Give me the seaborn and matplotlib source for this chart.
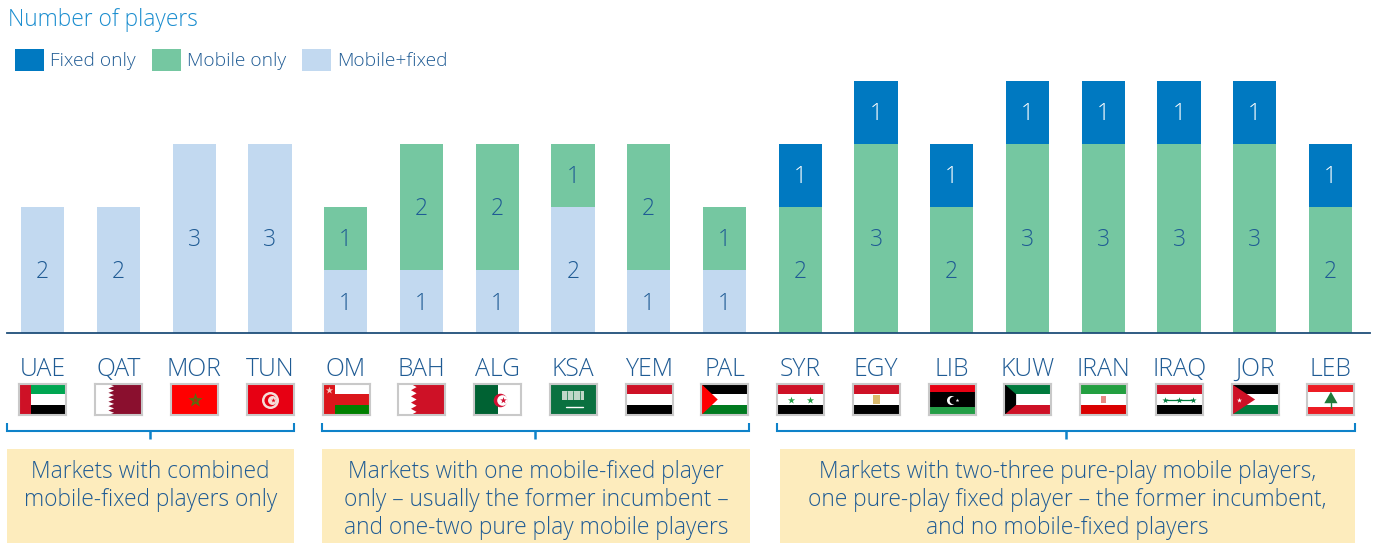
import matplotlib
matplotlib.use("Agg")
import matplotlib.pyplot as plt
import seaborn as sns
from matplotlib.patches import Rectangle, Polygon
from matplotlib.path import Path
from matplotlib.patches import PathPatch

markets = ["UAE","QAT","MOR","TUN","OM","BAH","ALG","KSA","YEM","PAL",
           "SYR","EGY","LIB","KUW","IRAN","IRAQ","JOR","LEB"]
mobile_fixed = [2,2,3,3,1,1,1,2,1,1,0,0,0,0,0,0,0,0]
mobile_only  = [0,0,0,0,1,2,2,1,2,1,2,3,2,3,3,3,3,2]
fixed_only   = [0,0,0,0,0,0,0,0,0,0,1,1,1,1,1,1,1,1]
series_names = ["Fixed only","Mobile only","Mobile+fixed"]
title_text = "Number of players"
group_lines = [
    ["Markets with combined","mobile-fixed players only"],
    ["Markets with one mobile-fixed player","only – usually the former incumbent –","and one-two pure play mobile players"],
    ["Markets with two-three pure-play mobile players,","one pure-play fixed player – the former incumbent,","and no mobile-fixed players"],
]

C_FIXED, C_MOBILE, C_BOTH = "#0079C1", "#75C7A1", "#C2D9F0"
C_TEXT, C_TITLE, C_BOX, C_BRACKET = "#1F5B94", "#1A8DCF", "#FDECBD", "#0E82C9"
W, H = 1375, 543

sns.set_theme(style="white")
plt.rcParams["font.family"] = ["Open Sans", "DejaVu Sans"]
plt.rcParams["font.weight"] = 300

fig = plt.figure(figsize=(W/100, H/100), dpi=100)
fig.patch.set_facecolor("white")
ax = fig.add_axes([6.7/W, (H-333)/H, (1369.7-6.7)/W, (333-80.5)/H])

bottom1 = mobile_fixed
bottom2 = [a+b for a, b in zip(mobile_fixed, mobile_only)]
kw = dict(x=markets, width=0.57, saturation=1, ax=ax, legend=False, order=markets, linewidth=0)
sns.barplot(y=mobile_fixed, color=C_BOTH, label=series_names[2], **kw)
sns.barplot(y=mobile_only, bottom=bottom1, color=C_MOBILE, label=series_names[1], **kw)
sns.barplot(y=fixed_only, bottom=bottom2, color=C_FIXED, label=series_names[0], **kw)

ax.set_xlim(-0.475, 17.516)
ax.set_ylim(0, 4.0)
for s in ["top","left","right"]:
    ax.spines[s].set_visible(False)
ax.spines["bottom"].set_color("#1F4E79")
ax.spines["bottom"].set_linewidth(1.3)
ax.set_yticks([])
ax.set_ylabel("")
ax.tick_params(axis="x", length=0, pad=31, labelsize=17.8, labelcolor=C_TEXT)
for lab in ax.get_xticklabels():
    lab.set_fontweight(300)
    lab.set_verticalalignment("baseline")

for cont, vals, col in zip(ax.containers, [mobile_fixed, mobile_only, fixed_only],
                           [C_TEXT, C_TEXT, "white"]):
    anns = ax.bar_label(cont, labels=[str(v) if v else "" for v in vals], label_type="center",
                        color=col, fontsize=16.5, fontweight=300)
    for t in anns:
        t.xyann = (0, -1.5)

hs = list(ax.containers)[::-1]
ax.legend(hs, series_names, loc="upper left", bbox_to_anchor=(15/W, (H-49)/H),
          bbox_transform=fig.transFigure, frameon=False, ncol=3,
          handlelength=1.5, handleheight=1.35, handletextpad=0.33, columnspacing=0.85,
          borderpad=0, borderaxespad=0, labelcolor=C_TEXT,
          prop={"size": 13.8, "weight": 300})

# overlay in pixel units
ov = fig.add_axes([0, 0, 1, 1], zorder=0.5)
ov.set_xlim(0, W); ov.set_ylim(H, 0); ov.axis("off"); ov.patch.set_alpha(0)
ov.text(8, 26, title_text, color=C_TITLE, fontsize=16.4, fontweight=300, va="baseline")

boxes = [(7, 294), (322, 750), (780, 1355)]
brackets = [(7, 294, 150), (322, 749, 535), (777, 1355, 1066)]
for (x0, x1), lines in zip(boxes, group_lines):
    ov.add_patch(Rectangle((x0, 449), x1-x0, 94, fc=C_BOX, ec="none"))
    for i, t in enumerate(lines):
        ov.text((x0+x1)/2, 478+28*i, t, ha="center", va="baseline", color=C_TEXT,
                fontsize=16.4, fontweight=300)
for x0, x1, xm in brackets:
    v = [(x0, 423), (x0, 431), (x0+2, 431), (x1-2, 431), (x1, 431), (x1, 423)]
    c = [Path.MOVETO, Path.LINETO, Path.LINETO, Path.LINETO, Path.LINETO, Path.LINETO]
    ov.add_patch(PathPatch(Path(v, c), fc="none", ec=C_BRACKET, lw=1.5))
    ov.plot([xm, xm], [431, 439], color=C_BRACKET, lw=1.8, solid_capstyle="butt")

RED, GRN, BLK, WHT = "#CE1126", "#007A3D", "#000000", "#FFFFFF"

def stripes(a, top, mid, bot, f=(1/3, 1/3, 1/3)):
    a.add_patch(Rectangle((0, 1-f[0]), 1, f[0], fc=top, ec="none"))
    a.add_patch(Rectangle((0, f[2]), 1, f[1], fc=mid, ec="none"))
    a.add_patch(Rectangle((0, 0), 1, f[2], fc=bot, ec="none"))

def serrated(a, x, color, n):
    pts = [(1, 0), (x, 0)]
    for i in range(n):
        pts += [(x+0.12, (i+0.5)/n), (x, (i+1)/n)]
    pts += [(1, 1)]
    a.add_patch(Polygon(pts, fc=color, ec="none"))

def star(a, x, y, color, s=30):
    a.scatter([x], [y], marker="*", s=s, color=color, linewidths=0, zorder=5)

def f_uae(a):
    stripes(a, "#00A651", WHT, BLK); a.add_patch(Rectangle((0, 0), .24, 1, fc=RED, ec="none"))
def f_qat(a):
    serrated(a, .28, "#8A0F2E", 7)
def f_mor(a):
    a.add_patch(Rectangle((0, 0), 1, 1, fc="#FF0000", ec="none"))
    star(a, .5, .47, "#55700F", 120)
    star(a, .5, .47, "#C0200F", 18)
def f_tun(a):
    a.add_patch(Rectangle((0, 0), 1, 1, fc="#E70013", ec="none"))
    a.scatter([.5], [.5], s=150, c="#F6DEDA", linewidths=0, zorder=3)
    a.scatter([.5], [.5], s=75, c="#E70013", linewidths=0, zorder=4)
    a.scatter([.54], [.5], s=42, c="#F6DEDA", linewidths=0, zorder=5)
    star(a, .55, .5, "#E70013", 12)
def f_om(a):
    stripes(a, WHT, "#DB161B", "#008000")
    a.add_patch(Rectangle((0, 0), .27, 1, fc="#DB161B", ec="none"))
    star(a, .13, .8, "#F6C8C0", 30)
def f_bah(a):
    serrated(a, .27, "#CE1126", 5)
def f_alg(a):
    a.add_patch(Rectangle((0, 0), .5, 1, fc="#006233", ec="none"))
    a.scatter([.55], [.5], s=95, c="#D21034", linewidths=0, zorder=3)
    a.scatter([.60], [.5], s=58, c=WHT, linewidths=0, zorder=4)
    star(a, .62, .5, "#D21034", 25)
def f_ksa(a):
    a.add_patch(Rectangle((0, 0), 1, 1, fc="#0A7140", ec="none"))
    a.add_patch(Rectangle((.27, .5), .46, .28, fc="#BFD8C8", ec="none"))
    for x in [.36, .5, .64]:
        a.plot([x, x], [.5, .78], color="#0A7140", lw=.5)
    a.plot([.35, .70], [.27, .27], color=WHT, lw=1.0)
def f_yem(a):
    stripes(a, RED, WHT, BLK)
def f_pal(a):
    stripes(a, BLK, WHT, "#007A1F")
    a.add_patch(Polygon([(0, 0), (.35, .5), (0, 1)], fc="#FF0000", ec="none"))
def f_syr(a):
    stripes(a, RED, WHT, BLK); star(a, .3, .5, "#239E46"); star(a, .7, .5, "#239E46")
def f_egy(a):
    stripes(a, RED, WHT, BLK)
    a.add_patch(Rectangle((.43, .37), .14, .28, fc="#D9B96C", ec="none"))
def f_lib(a):
    stripes(a, "#E70013", BLK, "#239E46", f=(.25, .5, .25))
    a.scatter([.48], [.5], s=42, c=WHT, linewidths=0, zorder=4)
    a.scatter([.52], [.5], s=30, c=BLK, linewidths=0, zorder=5)
    star(a, .6, .5, WHT, 8)
def f_kuw(a):
    stripes(a, "#007A3D", WHT, RED)
    a.add_patch(Polygon([(0, 0), (.25, .33), (.25, .67), (0, 1)], fc=BLK, ec="none"))
def f_iran(a):
    stripes(a, "#239F40", WHT, "#DA0000")
    a.add_patch(Rectangle((.45, .4), .1, .2, fc="#E88A84", ec="none"))
def f_iraq(a):
    stripes(a, RED, WHT, BLK)
    for x in [.2, .5, .8]:
        star(a, x, .5, GRN, 22)
    a.plot([.2, .8], [.5, .5], color=GRN, lw=.9)
def f_jor(a):
    stripes(a, BLK, WHT, GRN)
    a.add_patch(Polygon([(0, 0), (.5, .5), (0, 1)], fc=RED, ec="none"))
    star(a, .16, .5, WHT, 14)
def f_leb(a):
    stripes(a, "#ED1C24", WHT, "#ED1C24", f=(.25, .5, .25))
    a.add_patch(Polygon([(.5, .75), (.64, .38), (.36, .38)], fc="#1F7A3A", ec="none"))
    a.plot([.5, .5], [.38, .24], color="#1F7A3A", lw=1)

flags = [f_uae,f_qat,f_mor,f_tun,f_om,f_bah,f_alg,f_ksa,f_yem,f_pal,
         f_syr,f_egy,f_lib,f_kuw,f_iran,f_iraq,f_jor,f_leb]
fw = 47
for i, f in enumerate(flags):
    cx = ax.transData.transform((i, 0))[0] + 0.3
    fa = fig.add_axes([(cx-fw/2)/W, (H-415)/H, fw/W, 31/H], zorder=3)
    fa.set_xlim(0, 1); fa.set_ylim(0, 1)
    fa.set_xticks([]); fa.set_yticks([])
    fa.set_facecolor("white")
    f(fa)
    for s in fa.spines.values():
        s.set_visible(True); s.set_color("#C9C9C9"); s.set_linewidth(1.5)

fig.savefig("out.png", dpi=100)
